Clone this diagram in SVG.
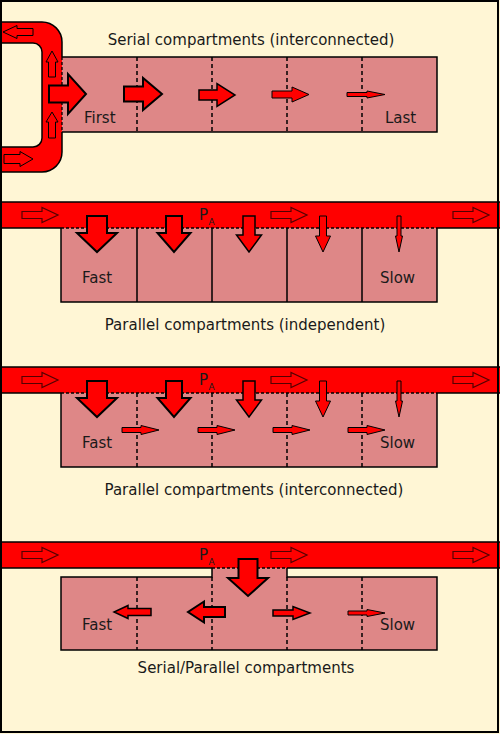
<svg xmlns="http://www.w3.org/2000/svg" width="500" height="734" viewBox="0 0 500 734">
<style>
.bg{fill:#fff6d5}
.box{fill:#de8787;stroke:none}
.edge{fill:none;stroke:#000;stroke-width:1.5}
.dash{fill:none;stroke:#000;stroke-width:1.5;stroke-dasharray:4,3}
.dot{fill:none;stroke:#000;stroke-width:1.3;stroke-dasharray:3,2}
.red{fill:#f00;stroke:none}
.ab{fill:#f00;stroke:#000;stroke-width:2;stroke-linejoin:miter}
.am{fill:#f00;stroke:#000;stroke-width:1.5}
.as{fill:#f00;stroke:#000;stroke-width:1}
.ah{fill:#f00;stroke:#500;stroke-width:1.2}
text{font-family:"DejaVu Sans",sans-serif;font-size:15px;fill:#1a1a1a}
.t{text-anchor:middle}
.sub{font-size:9px}
</style>
<rect class="bg" x="0" y="0" width="500" height="734"/>

<!-- Section 1: serial compartments (interconnected) -->
<g id="serial">
  <rect class="box" x="62" y="57" width="375" height="75"/>
  <path class="edge" d="M62,57 H437 V132 H62"/>
  <path class="dash" d="M137,57 V132 M212,57 V132 M287,57 V132 M362,57 V132"/>
  <g id="tube">
    <path class="red" d="M0,22 H42 A20,20 0 0 1 62,42 V152 A20,20 0 0 1 42,172 H0 V147 H33 A9,9 0 0 0 42,138 V52 A9,9 0 0 0 33,43 H0 Z"/>
    <path class="edge" d="M0,22 H42 A20,20 0 0 1 62,42 V57 M62,132 V152 A20,20 0 0 1 42,172 H0"/>
    <path class="edge" d="M0,43 H33 A9,9 0 0 1 42,52 V138 A9,9 0 0 1 33,147 H0"/>
    <path class="dot" d="M62,57 V132"/>
    <polygon class="as" points="33,28.5 17,28.5 17,25.5 3,32 17,38.5 17,35.5 33,35.5"/>
    <polygon class="as" points="4,154.5 20,154.5 20,151.5 33,159 20,166.5 20,163.5 4,163.5"/>
    <polygon class="as" points="48.5,77 48.5,62 46,62 52,51 58,62 55.5,62 55.5,77"/>
    <polygon class="as" points="48.5,138 48.5,122 46,122 52,112 58,122 55.5,122 55.5,138"/>
  </g>
  <polygon class="ab" points="49,85.5 68,85.5 68,74 86,94 68,114 68,102.5 49,102.5"/>
  <polygon class="ab" points="124,86.5 143,86.5 143,78 162,94 143,110 143,101.5 124,101.5"/>
  <polygon class="am" points="199,90 217,90 217,83.5 235,95 217,106.5 217,100 199,100"/>
  <polygon class="as" points="272,91 292,91 292,87 309,94.5 292,102 292,98 272,98"/>
  <polygon class="as" points="347,92.5 367,92.5 367,91 385,94.5 367,98 367,96.5 347,96.5"/>
  <text x="84" y="123">First</text>
  <text x="385" y="123">Last</text>
  <text class="t" x="251" y="45">Serial compartments (interconnected)</text>
</g>

<!-- Section 2: parallel compartments (independent) -->
<g id="parallel-independent">
  <rect class="red" x="0" y="202" width="500" height="26"/>
  <path class="edge" d="M0,202 H500 M0,228 H61 M437,228 H500"/>
  <rect class="box" x="61" y="228" width="376" height="74"/>
  <path class="edge" d="M61,228 V302 H437 V228"/>
  <path class="dot" d="M61,228 H437"/>
  <path class="edge" d="M137,228 V302 M212,228 V302 M287,228 V302 M362,228 V302"/>
  <polygon class="ah" points="22,211.5 42,211.5 42,207.5 58,215 42,222.5 42,218.5 22,218.5"/>
  <polygon class="ah" points="271,211.5 291,211.5 291,207.5 307,215 291,222.5 291,218.5 271,218.5"/>
  <polygon class="ah" points="453,211.5 473,211.5 473,207.5 489,215 473,222.5 473,218.5 453,218.5"/>
  <polygon class="ab" points="87,216 107,216 107,233 117,233 97,252 77,233 87,233"/>
  <polygon class="ab" points="166,216 182,216 182,233 190.5,233 174,252 157.5,233 166,233"/>
  <polygon class="am" points="243,216 255,216 255,235 261.5,235 249,252 236.5,235 243,235"/>
  <polygon class="as" points="319.5,216 326.5,216 326.5,236 330.5,236 323,252 315.5,236 319.5,236"/>
  <polygon class="as" points="397,216 401,216 401,236 402.5,236 399,252 395.5,236 397,236"/>
  <text x="199" y="220">P</text><text class="sub" x="208.5" y="225">A</text>
  <text x="82" y="283">Fast</text>
  <text x="380" y="283">Slow</text>
  <text class="t" x="245" y="330">Parallel compartments (independent)</text>
</g>

<!-- Section 3: parallel compartments (interconnected) -->
<g id="parallel-interconnected">
  <rect class="red" x="0" y="367" width="500" height="26"/>
  <path class="edge" d="M0,367 H500 M0,393 H61 M437,393 H500"/>
  <rect class="box" x="61" y="393" width="376" height="74"/>
  <path class="edge" d="M61,393 V467 H437 V393"/>
  <path class="dot" d="M61,393 H437"/>
  <path class="dash" d="M137,393 V467 M212,393 V467 M287,393 V467 M362,393 V467"/>
  <polygon class="ah" points="22,376.5 42,376.5 42,372.5 58,380 42,387.5 42,383.5 22,383.5"/>
  <polygon class="ah" points="271,376.5 291,376.5 291,372.5 307,380 291,387.5 291,383.5 271,383.5"/>
  <polygon class="ah" points="453,376.5 473,376.5 473,372.5 489,380 473,387.5 473,383.5 453,383.5"/>
  <polygon class="ab" points="87,381 107,381 107,398 117,398 97,417 77,398 87,398"/>
  <polygon class="ab" points="166,381 182,381 182,398 190.5,398 174,417 157.5,398 166,398"/>
  <polygon class="am" points="243,381 255,381 255,400 261.5,400 249,417 236.5,400 243,400"/>
  <polygon class="as" points="319.5,381 326.5,381 326.5,401 330.5,401 323,417 315.5,401 319.5,401"/>
  <polygon class="as" points="397,381 401,381 401,401 402.5,401 399,417 395.5,401 397,401"/>
  <polygon class="as" points="122,427.5 141,427.5 141,425.5 159,430 141,434.5 141,432.5 122,432.5"/>
  <polygon class="as" points="198,427.5 217,427.5 217,425.5 235,430 217,434.5 217,432.5 198,432.5"/>
  <polygon class="as" points="273,427.5 292,427.5 292,425.5 310,430 292,434.5 292,432.5 273,432.5"/>
  <polygon class="as" points="348,427.5 367,427.5 367,425.5 385,430 367,434.5 367,432.5 348,432.5"/>
  <text x="199" y="385">P</text><text class="sub" x="208.5" y="390">A</text>
  <text x="82" y="448">Fast</text>
  <text x="380" y="448">Slow</text>
  <text class="t" x="254" y="495">Parallel compartments (interconnected)</text>
</g>

<!-- Section 4: serial/parallel compartments -->
<g id="serial-parallel">
  <rect class="red" x="0" y="542" width="500" height="26"/>
  <path class="edge" d="M0,542 H500 M0,568 H212 M287,568 H500"/>
  <rect class="box" x="61" y="577" width="376" height="73"/>
  <rect class="box" x="212" y="568" width="75" height="10"/>
  <path class="edge" d="M212,568 V577 H61 V650 H437 V577 H287 V568"/>
  <path class="dot" d="M212,568 H287"/>
  <path class="dash" d="M137,577 V650 M212,577 V650 M287,577 V650 M362,577 V650"/>
  <polygon class="ah" points="22,551.5 42,551.5 42,547.5 58,555 42,562.5 42,558.5 22,558.5"/>
  <polygon class="ah" points="271,551.5 291,551.5 291,547.5 307,555 291,562.5 291,558.5 271,558.5"/>
  <polygon class="ah" points="453,551.5 473,551.5 473,547.5 489,555 473,562.5 473,558.5 453,558.5"/>
  <polygon class="ab" points="238.5,559 257.5,559 257.5,578 268,578 248,596 228,578 238.5,578"/>
  <polygon class="am" points="151,608.5 128,608.5 128,605.5 114,612 128,618.5 128,615.5 151,615.5"/>
  <polygon class="ab" points="225,607 204,607 204,601.5 188,612 204,622.5 204,617 225,617"/>
  <polygon class="am" points="273,610 293,610 293,606.5 310,613 293,619.5 293,616 273,616"/>
  <polygon class="as" points="348,611 367,611 367,609.5 385,613 367,616.5 367,615 348,615"/>
  <text x="199" y="560">P</text><text class="sub" x="208.5" y="565">A</text>
  <text x="82" y="630">Fast</text>
  <text x="380" y="630">Slow</text>
  <text class="t" x="246" y="673">Serial/Parallel compartments</text>
</g>

<rect x="1" y="1" width="497" height="731" fill="none" stroke="#000" stroke-width="2"/>
</svg>
